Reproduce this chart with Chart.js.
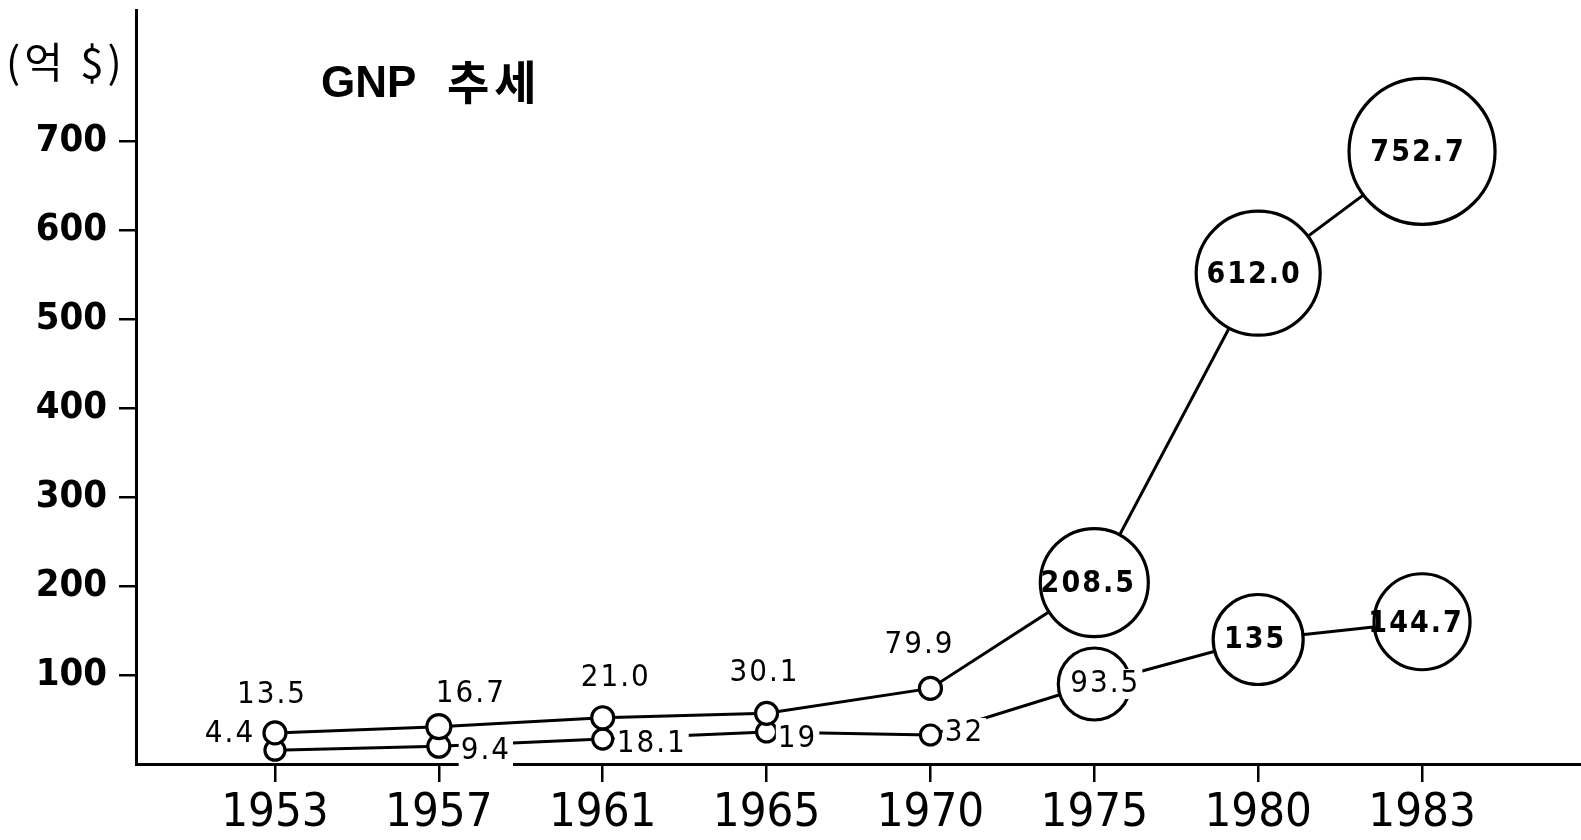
<!DOCTYPE html>
<html><head><meta charset="utf-8">
<script src="https://cdn.jsdelivr.net/npm/chart.js@4.4.1/dist/chart.umd.min.js"></script>
<style>html,body{margin:0;padding:0;background:#fff;}canvas{display:block;}</style>
</head><body>
<canvas id="c" width="1581" height="840"></canvas>
<script>
// ---- data ----
const years = ['1953','1957','1961','1965','1970','1975','1980','1983'];
const yTickValues = [100,200,300,400,500,600,700];
// plotted positions (억 $)
const upperValues = [35, 42, 52, 57, 85, 204, 552, 689];
const lowerValues = [15.5, 20, 28, 36, 32.6, 90, 140, 160];
// printed value labels
const upperLabels = ['13.5','16.7','21.0','30.1','79.9','208.5','612.0','752.7'];
const lowerLabels = ['4.4','9.4','18.1','19','32','93.5','135','144.7'];

// ---- styles ----
const upperRadii = [11,12,11,11,11,54,62,73];
const lowerRadii = [10,11,10,10,10,36,45,48];
const upperLabelOffsets = [[-3,-38],[32,-33],[13,-40],[-2,-40],[-11,-43],[-6,2],[-4,2],[-4,2]];
const lowerLabelOffsets = [[-45,-16],[47,5],[49,5],[31,7],[34,-2],[11,0],[-3,1],[-6,2]];
const upperBold = [false,false,false,false,false,true,true,true];
const lowerBold = [false,false,false,false,false,false,true,true];
const lowerBoxed = [true,true,true,true,true,true,false,false];
const NARROW = "'Liberation Sans Narrow', 'DejaVu Sans Condensed', 'Roboto Condensed', sans-serif";

const toPoints = vals => vals.map((v, i) => ({x: i, y: v}));
const noPad = s => { s.paddingTop = 0; s.paddingBottom = 0; s.paddingLeft = 0; s.paddingRight = 0; };

const labelPlugin = {
  id: 'labels',
  afterDatasetsDraw(chart) {
    const ctx = chart.ctx;
    const sets = [
      {meta: chart.getDatasetMeta(0), labels: upperLabels, offs: upperLabelOffsets, bold: upperBold, box: null},
      {meta: chart.getDatasetMeta(1), labels: lowerLabels, offs: lowerLabelOffsets, bold: lowerBold, box: lowerBoxed}
    ];
    ctx.save();
    ctx.textAlign = 'center';
    ctx.textBaseline = 'middle';
    sets.forEach(s => {
      s.meta.data.forEach((pt, i) => {
        ctx.font = (s.bold[i] ? 'bold 30px ' : 'normal 31px ') + NARROW;
        ctx.letterSpacing = '2px';
        const x = pt.x + s.offs[i][0];
        const y = pt.y + s.offs[i][1];
        const txt = s.labels[i];
        if (s.box && s.box[i]) {
          const w = ctx.measureText(txt).width + 4;
          ctx.fillStyle = '#fff';
          ctx.fillRect(x - w / 2, y - 15, w, 30);
        }
        ctx.fillStyle = '#000';
        ctx.fillText(txt, x, y);
      });
    });
    ctx.restore();
  },
  afterDraw(chart) {
    const ctx = chart.ctx;
    ctx.save();
    ctx.fillStyle = '#000';
    ctx.textBaseline = 'alphabetic';
    ctx.textAlign = 'left';
    ctx.font = "bold 44px 'Liberation Sans', 'Noto Sans CJK KR', sans-serif";
    ctx.fillText('GNP', 321, 97);
    ctx.font = "bold 46px 'Noto Sans CJK KR', sans-serif";
    ctx.letterSpacing = '5px';
    ctx.fillText('추세', 447, 99);
    ctx.letterSpacing = '4px';
    ctx.font = "normal 42px 'Noto Sans CJK KR', sans-serif";
    ctx.fillText('(억 $)', 6, 78);
    ctx.restore();
  }
};

new Chart(document.getElementById('c'), {
  type: 'line',
  data: {
    datasets: [
      {
        data: toPoints(upperValues),
        borderColor: '#000', borderWidth: 3, tension: 0,
        pointRadius: upperRadii, pointHoverRadius: upperRadii,
        pointBackgroundColor: '#fff', pointBorderColor: '#000', pointBorderWidth: 3.2,
        clip: false
      },
      {
        data: toPoints(lowerValues),
        borderColor: '#000', borderWidth: 3, tension: 0,
        pointRadius: lowerRadii, pointHoverRadius: lowerRadii,
        pointBackgroundColor: '#fff', pointBorderColor: '#000', pointBorderWidth: 3.2,
        clip: false
      }
    ]
  },
  options: {
    responsive: false,
    animation: false,
    events: [],
    layout: {autoPadding: false, padding: {top: 10, left: 0, right: 0, bottom: 0}},
    plugins: {legend: {display: false}, tooltip: {enabled: false}, title: {display: false}},
    scales: {
      x: {
        type: 'linear',
        min: -0.848, max: 7.97,
        afterBuildTicks: s => { s.ticks = years.map((_, i) => ({value: i})); },
        afterFit: s => { s.height = 76; noPad(s); },
        ticks: {
          autoSkip: false, maxRotation: 0, padding: 4, color: '#000',
          font: {family: NARROW, size: 47, weight: 'normal'},
          callback: v => years[v]
        },
        grid: {drawOnChartArea: false, drawTicks: true, tickLength: 18, color: '#000', lineWidth: 2.5},
        border: {display: true, color: '#000', width: 3}
      },
      y: {
        type: 'linear',
        min: 0, max: 848,
        afterBuildTicks: s => { s.ticks = yTickValues.map(v => ({value: v})); },
        afterFit: s => { s.width = 136; noPad(s); },
        ticks: {
          padding: 12, color: '#000',
          font: {family: NARROW, size: 38, weight: 'bold'},
          callback: v => String(v)
        },
        grid: {drawOnChartArea: false, drawTicks: true, tickLength: 17, color: '#000', lineWidth: 2.5},
        border: {display: true, color: '#000', width: 3}
      }
    }
  },
  plugins: [labelPlugin]
});
</script>
</body></html>
